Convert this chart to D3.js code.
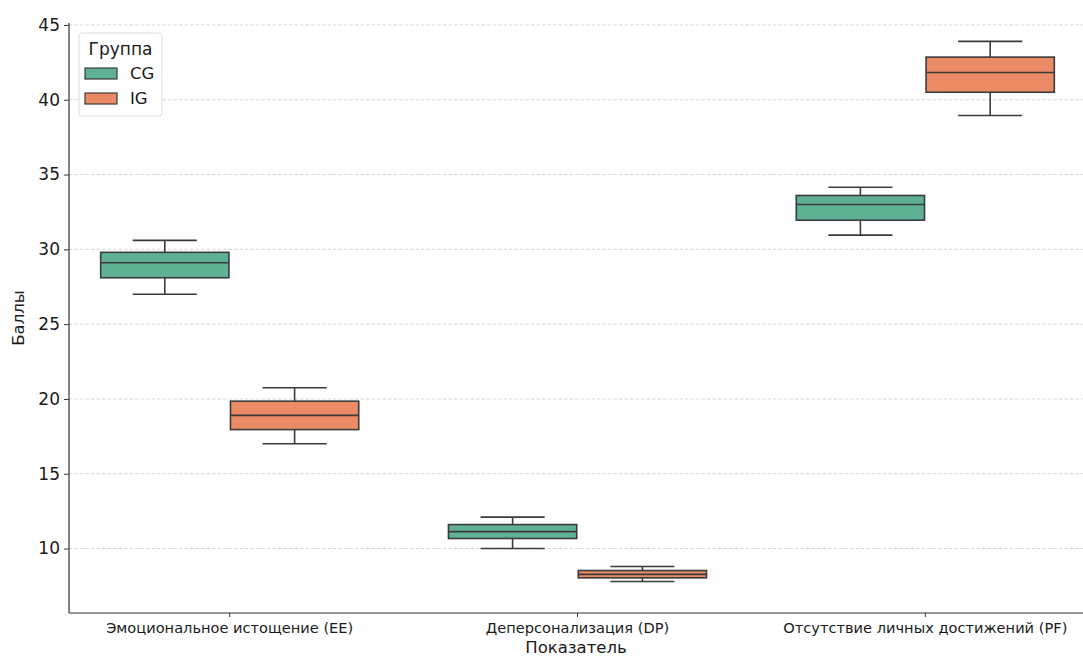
<!DOCTYPE html>
<html>
<head>
<meta charset="utf-8">
<script src="https://cdn.jsdelivr.net/npm/d3@7"></script>
<style>
  html, body { margin: 0; padding: 0; background: #ffffff; }
  svg { display: block; font-family: "DejaVu Sans", sans-serif; }
</style>
</head>
<body>
<svg id="chart" width="1083" height="658"></svg>
<script>
// Maslach burnout scale scores by indicator and group
const categories = ["Эмоциональное истощение (EE)", "Деперсонализация (DP)", "Отсутствие личных достижений (PF)"];
const groups = ["CG", "IG"];

// Five-number summaries per category: [whiskerLow, q1, median, q3, whiskerHigh]
const cgStats = [
  [27.0, 28.1, 29.1, 29.8, 30.6],
  [10.0, 10.67, 11.13, 11.6, 12.1],
  [30.95, 31.95, 33.0, 33.6, 34.15]
];
const igStats = [
  [17.0, 17.95, 18.9, 19.85, 20.75],
  [7.8, 8.04, 8.27, 8.53, 8.8],
  [38.95, 40.5, 41.82, 42.85, 43.9]
];
const yTicks = [10, 15, 20, 25, 30, 35, 40, 45];

const colors = { CG: "#5eb293", IG: "#ea8b65" };
const edge = "#3b3b3b";

const svg = d3.select("#chart");
const plot = { left: 69, right: 1083, top: 23, bottom: 613 };

const x = d3.scaleBand()
  .domain(categories)
  .range([55.8, 1099.2])
  .paddingInner(0).paddingOuter(0);

const groupWidth = x.step() * 0.742;
const xHue = d3.scaleBand()
  .domain(groups)
  .range([-groupWidth / 2, groupWidth / 2])
  .paddingInner(0.012);

const y = d3.scaleLinear()
  .domain([5.69, 45.13])
  .range([plot.bottom, plot.top]);

// horizontal dashed grid
svg.append("g")
  .selectAll("line")
  .data(yTicks)
  .join("line")
  .attr("x1", plot.left).attr("x2", plot.right)
  .attr("y1", d => y(d)).attr("y2", d => y(d))
  .attr("stroke", "#cfcfcf")
  .attr("stroke-width", 0.9)
  .attr("stroke-dasharray", "3.5,2");

// boxes
const records = [];
categories.forEach((c, i) => {
  records.push({ cat: c, group: "CG", s: cgStats[i] });
  records.push({ cat: c, group: "IG", s: igStats[i] });
});

const boxes = svg.append("g")
  .selectAll("g")
  .data(records)
  .join("g")
  .attr("transform", d => `translate(${x(d.cat) + x.bandwidth() / 2 + xHue(d.group)},0)`);

const bw = xHue.bandwidth();

// whiskers
boxes.append("line")
  .attr("x1", bw / 2).attr("x2", bw / 2)
  .attr("y1", d => y(d.s[0])).attr("y2", d => y(d.s[1]))
  .attr("stroke", edge).attr("stroke-width", 1.6);
boxes.append("line")
  .attr("x1", bw / 2).attr("x2", bw / 2)
  .attr("y1", d => y(d.s[3])).attr("y2", d => y(d.s[4]))
  .attr("stroke", edge).attr("stroke-width", 1.6);
// caps
[0, 4].forEach(k => {
  boxes.append("line")
    .attr("x1", bw / 4).attr("x2", bw * 3 / 4)
    .attr("y1", d => y(d.s[k])).attr("y2", d => y(d.s[k]))
    .attr("stroke", edge).attr("stroke-width", 1.6);
});
// box body
boxes.append("rect")
  .attr("x", 0).attr("width", bw)
  .attr("y", d => y(d.s[3]))
  .attr("height", d => y(d.s[1]) - y(d.s[3]))
  .attr("fill", d => colors[d.group])
  .attr("stroke", edge).attr("stroke-width", 1.6);
// median
boxes.append("line")
  .attr("x1", 0).attr("x2", bw)
  .attr("y1", d => y(d.s[2])).attr("y2", d => y(d.s[2]))
  .attr("stroke", edge).attr("stroke-width", 1.6);

// spines
svg.append("line")
  .attr("x1", plot.left).attr("x2", plot.left)
  .attr("y1", plot.top).attr("y2", plot.bottom)
  .attr("stroke", "#333").attr("stroke-width", 1.2);
svg.append("line")
  .attr("x1", plot.left).attr("x2", plot.right)
  .attr("y1", plot.bottom).attr("y2", plot.bottom)
  .attr("stroke", "#333").attr("stroke-width", 1.2);

// y axis
const yAxis = d3.axisLeft(y).tickValues(yTicks).tickSize(5).tickPadding(4);
const gy = svg.append("g").attr("transform", `translate(${plot.left},0)`).call(yAxis);
gy.select(".domain").remove();
gy.selectAll(".tick line").attr("stroke", "#333").attr("stroke-width", 1);
gy.selectAll(".tick text")
  .attr("font-family", "DejaVu Sans").attr("font-size", 17).attr("fill", "#1a1a1a");

// x axis
const xAxis = d3.axisBottom(x).tickSize(4).tickPadding(6);
const gx = svg.append("g").attr("transform", `translate(0,${plot.bottom})`).call(xAxis);
gx.select(".domain").remove();
gx.selectAll(".tick line").attr("stroke", "#333").attr("stroke-width", 1);
gx.selectAll(".tick text")
  .attr("font-family", "DejaVu Sans").attr("font-size", 14.6).attr("fill", "#1a1a1a");

// axis titles
svg.append("text")
  .attr("x", 576).attr("y", 653)
  .attr("text-anchor", "middle")
  .attr("font-size", 16.5).attr("fill", "#1a1a1a")
  .text("Показатель");
svg.append("text")
  .attr("transform", "translate(24,318) rotate(-90)")
  .attr("text-anchor", "middle")
  .attr("font-size", 16.5).attr("fill", "#1a1a1a")
  .text("Баллы");

// legend
const legend = svg.append("g").attr("transform", "translate(79,33)");
legend.append("rect")
  .attr("x", 0).attr("y", 0).attr("width", 83).attr("height", 83)
  .attr("rx", 3)
  .attr("fill", "#ffffff").attr("fill-opacity", 0.85)
  .attr("stroke", "#dddddd").attr("stroke-width", 1);
legend.append("text")
  .attr("x", 41.5).attr("y", 22)
  .attr("text-anchor", "middle")
  .attr("font-size", 17).attr("fill", "#1a1a1a")
  .text("Группа");
const items = legend.selectAll("g.item")
  .data(groups)
  .join("g")
  .attr("class", "item")
  .attr("transform", (d, i) => `translate(6,${35 + i * 25})`);
items.append("rect")
  .attr("width", 32).attr("height", 11)
  .attr("fill", d => colors[d])
  .attr("stroke", edge).attr("stroke-width", 1.2);
items.append("text")
  .attr("x", 45).attr("y", 11)
  .attr("font-size", 16.5).attr("fill", "#1a1a1a")
  .text(d => d);
</script>
</body>
</html>
